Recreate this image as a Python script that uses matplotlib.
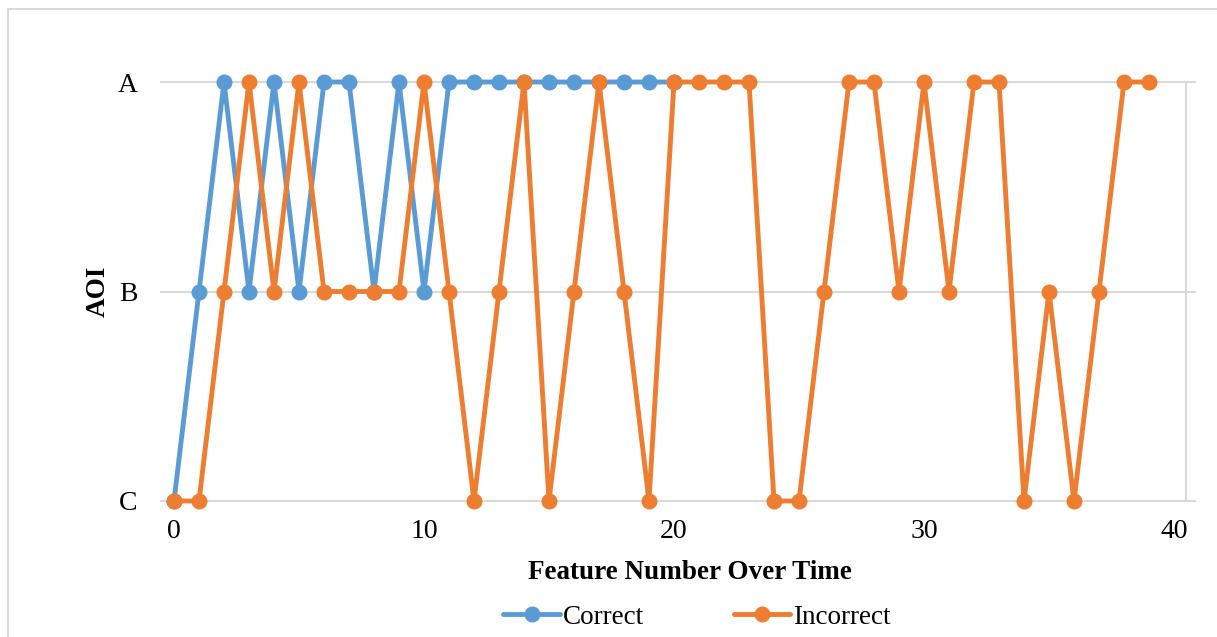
import matplotlib
matplotlib.use("Agg")
import matplotlib.pyplot as plt
from matplotlib.patches import Rectangle

# AOI levels (C lowest, A highest)
aoi_labels = ["C", "B", "A"]

correct_x = list(range(0, 21))
correct_aoi = ["C", "B", "A", "B", "A", "B", "A", "A", "B", "A", "B",
               "A", "A", "A", "A", "A", "A", "A", "A", "A", "A"]

incorrect_x = list(range(0, 40))
incorrect_aoi = ["C", "C", "B", "A", "B", "A", "B", "B", "B", "B",
                 "A", "B", "C", "B", "A", "C", "B", "A", "B", "C",
                 "A", "A", "A", "A", "C", "C", "B", "A", "A", "B",
                 "A", "B", "A", "A", "C", "B", "C", "B", "A", "A"]

x_ticks = [0, 10, 20, 30, 40]

level = {name: i for i, name in enumerate(aoi_labels)}
correct_y = [level[v] for v in correct_aoi]
incorrect_y = [level[v] for v in incorrect_aoi]

plt.rcParams["font.family"] = ["Liberation Serif", "DejaVu Serif"]

W, H = 1217, 637
fig = plt.figure(figsize=(W / 100, H / 100), dpi=100)
fig.patch.set_facecolor("white")

# chart frame
fig.patches.append(Rectangle((8 / W, -0.1), 1.2, 1 - 9 / H + 0.1,
                             transform=fig.transFigure, fill=False,
                             edgecolor="#d9d9d9", linewidth=1.5))

left, right = 161 / W, 1195 / W
bottom, top = 1 - 501 / H, 1 - 82 / H
ax = fig.add_axes([left, bottom, right - left, top - bottom])

blue = "#5B9BD5"
orange = "#ED7D31"

ax.plot(correct_x, correct_y, color=blue, lw=3.5, marker="o", ms=10.5,
        solid_capstyle="round", label="Correct", clip_on=False, zorder=3)
ax.plot(incorrect_x, incorrect_y, color=orange, lw=3.5, marker="o", ms=10.5,
        solid_capstyle="round", label="Incorrect", clip_on=False, zorder=4)

ax.set_xlim(-0.52, 40.84)
ax.set_ylim(0, 2)
for y in range(len(aoi_labels)):
    ax.axhline(y, color="#d9d9d9", lw=1.5, zorder=1, clip_on=False)
ax.vlines(40.48, 0, 2, color="#d9d9d9", lw=1.5, zorder=1)

for s in ax.spines.values():
    s.set_visible(False)

ax.set_xticks(x_ticks)
ax.set_yticks(range(len(aoi_labels)))
ax.set_yticklabels(aoi_labels)
ax.tick_params(axis="both", length=0, labelsize=20)
ax.tick_params(axis="x", pad=13)
ax.tick_params(axis="y", pad=17)

ax.set_xlabel("Feature Number Over Time", fontsize=19.5, fontweight="bold")
ax.xaxis.set_label_coords(0.5116, -0.142)
ax.set_ylabel("AOI", fontsize=19.5, fontweight="bold", labelpad=5)

fig.legend(loc="center", bbox_to_anchor=(697 / W, 1 - 617 / H), ncol=2,
           frameon=False, fontsize=19.5, handlelength=2.1, handletextpad=0.1,
           columnspacing=3.3)

fig.savefig("out.png", dpi=100)
